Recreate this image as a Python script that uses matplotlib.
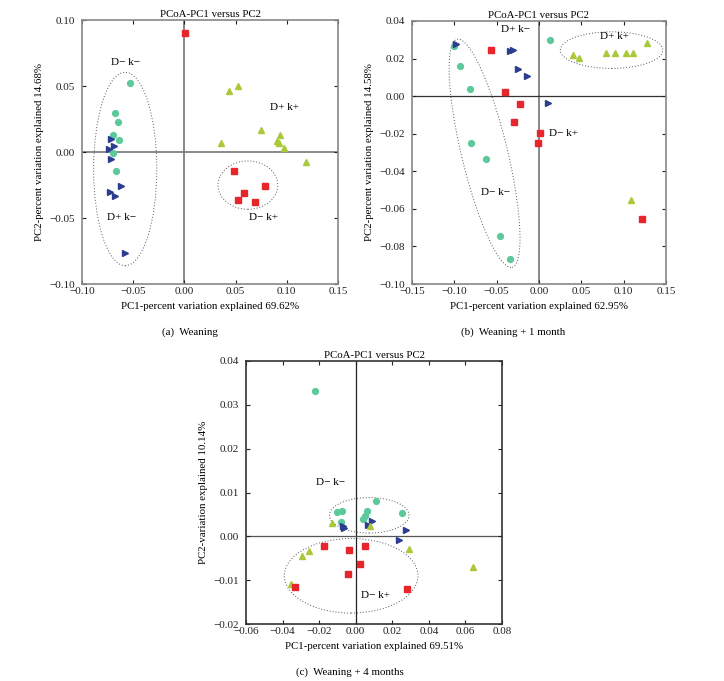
import numpy as np
import matplotlib
matplotlib.use("Agg")
import matplotlib.pyplot as plt
from matplotlib.patches import Ellipse, Polygon

plt.rcParams['font.family'] = ['Liberation Serif', 'DejaVu Serif']
plt.rcParams['font.size'] = 7.5

GREEN = '#5cc99b'
BLUE = '#2a3d8f'
YELLOW = '#a9c93b'
RED = '#e6262b'

# ---------------- Panel (a): Weaning ----------------
a_dkm_x = [-0.053, -0.0675, -0.065, -0.070, -0.064, -0.070, -0.067]
a_dkm_y = [0.052, 0.0295, 0.023, 0.013, 0.009, -0.001, -0.0146]
a_dpkm_x = [-0.0714, -0.074, -0.0685, -0.072, -0.0623, -0.0727, -0.068, -0.058]
a_dpkm_y = [0.010, 0.002, 0.0045, -0.0056, -0.0258, -0.030, -0.0336, -0.0765]
a_dpkp_x = [0.0435, 0.052, 0.0747, 0.0357, 0.093, 0.0903, 0.092, 0.097, 0.1185]
a_dpkp_y = [0.0465, 0.050, 0.017, 0.0066, 0.0129, 0.008, 0.0066, 0.0028, -0.0073]
a_dmkp_x = [0.001, 0.0484, 0.079, 0.0584, 0.0523, 0.069]
a_dmkp_y = [0.090, -0.0146, -0.0258, -0.0313, -0.036, -0.038]

# ---------------- Panel (b): Weaning + 1 month ----------------
b_dkm_x = [-0.100, -0.0937, -0.0815, 0.0126, -0.0807, -0.0626, -0.0457, -0.0343]
b_dkm_y = [0.0266, 0.0161, 0.0037, 0.0301, -0.025, -0.0337, -0.0743, -0.0867]
b_dpkm_x = [-0.0984, -0.0345, -0.031, -0.0252, -0.0146, 0.0106]
b_dpkm_y = [0.0275, 0.0238, 0.0245, 0.0144, 0.0105, -0.0034]
b_dpkp_x = [0.0406, 0.0469, 0.0795, 0.090, 0.1028, 0.1106, 0.127, 0.109]
b_dpkp_y = [0.0218, 0.0202, 0.0232, 0.023, 0.023, 0.0232, 0.0285, -0.0553]
b_dmkp_x = [-0.0563, -0.0406, -0.022, -0.0295, 0.0012, -0.0008, 0.1217]
b_dmkp_y = [0.0246, 0.0021, -0.0041, -0.0138, -0.0195, -0.0252, -0.0654]

# ---------------- Panel (c): Weaning + 4 months ----------------
c_dkm_x = [-0.0224, 0.0113, -0.010, -0.0076, 0.006, 0.0049, 0.0042, 0.0255, -0.008]
c_dkm_y = [0.0331, 0.0081, 0.0055, 0.0057, 0.0058, 0.0046, 0.0039, 0.0054, 0.0032]
c_dpkm_x = [-0.0068, -0.0062, 0.0067, 0.0089, 0.0276, 0.0238]
c_dpkm_y = [0.0024, 0.0018, 0.0025, 0.0035, 0.0014, -0.0008]
c_dpkp_x = [-0.0129, 0.008, 0.0289, -0.0255, -0.0293, -0.0355, 0.064]
c_dpkp_y = [0.003, 0.0024, -0.0029, -0.0033, -0.0044, -0.0109, -0.0071]
c_dmkp_x = [-0.0176, -0.0036, 0.0049, 0.0022, -0.0044, -0.0333, 0.028]
c_dmkp_y = [-0.0022, -0.0031, -0.0021, -0.0063, -0.0085, -0.0115, -0.0121]

titles = "PCoA-PC1 versus PC2"
xlabels = ["PC1-percent variation explained 69.62%",
           "PC1-percent variation explained 62.95%",
           "PC1-percent variation explained 69.51%"]
ylabels = ["PC2-percent variation explained 14.68%",
           "PC2-percent variation explained 14.58%",
           "PC2-variation explained 10.14%"]
captions = ["(a)  Weaning", "(b)  Weaning + 1 month", "(c)  Weaning + 4 months"]

fig = plt.figure(figsize=(7.24, 6.81), dpi=100)
W, H = 724, 681

def axes_px(l, t, r, b):
    return fig.add_axes([l / W, 1 - b / H, (r - l) / W, (b - t) / H])

axA = axes_px(82, 20, 338, 284)
axB = axes_px(412, 21, 666, 284)
axC = axes_px(246, 361, 502, 624)

MS = 4.2

def draw(ax, g, bl, y, r):
    ax.plot(g[0], g[1], 'o', color=GREEN, ms=MS, mec=GREEN, zorder=4)
    ax.plot(bl[0], bl[1], '>', color=BLUE, ms=MS + 0.5, mec=BLUE, zorder=4)
    ax.plot(y[0], y[1], '^', color=YELLOW, ms=MS + 0.3, mec=YELLOW, zorder=4)
    ax.plot(r[0], r[1], 's', color=RED, ms=MS, mec=RED, zorder=4)

def style(ax, xlim, ylim, xt, yt, fmt, spine_col, i):
    ax.set_xlim(*xlim)
    ax.set_ylim(*ylim)
    ax.set_xticks(xt)
    ax.set_yticks(yt)
    ax.set_xticklabels([fmt.format(v).replace('-', '\u2212') for v in xt])
    ax.set_yticklabels([fmt.format(v).replace('-', '\u2212') for v in yt])
    ax.tick_params(direction='in', top=True, right=True, length=3, width=0.8,
                   colors='#222222', labelsize=8)
    ax.tick_params(axis='x', pad=2.5)
    ax.tick_params(axis='y', pad=5)
    for s in ax.spines.values():
        s.set_color(spine_col)
        s.set_linewidth(1.2)
    ax.set_title(titles, fontsize=7.8, pad=2)
    ax.set_xlabel(xlabels[i], fontsize=7.8, labelpad=4)
    ax.set_ylabel(ylabels[i], fontsize=7.8, labelpad=4)

# Panel a
draw(axA, (a_dkm_x, a_dkm_y), (a_dpkm_x, a_dpkm_y), (a_dpkp_x, a_dpkp_y), (a_dmkp_x, a_dmkp_y))
axA.axvline(0, color='#888888', lw=1.4, zorder=1)
axA.axhline(0, color='#777777', lw=1.2, zorder=1)
axA.add_patch(Ellipse((-0.0578, -0.0129), 0.0617, 0.1465, fill=False, ls=(0, (1, 2)),
                      ec='#555555', lw=0.7))
axA.add_patch(Ellipse((0.062, -0.0251), 0.0584, 0.0366, fill=False, ls=(0, (1, 2)),
                      ec='#555555', lw=0.7))
for (tx, ty, s) in [(-0.0578, 0.068, "D\u2212 k\u2212"), (0.0974, 0.0336, "D+ k+"),
                    (0.0773, -0.0495, "D\u2212 k+"), (-0.061, -0.0495, "D+ k\u2212")]:
    axA.text(tx, ty, s, ha='center', va='center', fontsize=8)
style(axA, (-0.10, 0.15), (-0.10, 0.10), [-0.10, -0.05, 0.0, 0.05, 0.10, 0.15],
      [-0.10, -0.05, 0.0, 0.05, 0.10], "{:.2f}", '#888888', 0)

# Panel b
draw(axB, (b_dkm_x, b_dkm_y), (b_dpkm_x, b_dpkm_y), (b_dpkp_x, b_dpkp_y), (b_dmkp_x, b_dmkp_y))
axB.axvline(0, color='#888888', lw=1.4, zorder=1)
axB.axhline(0, color='#333333', lw=0.9, zorder=1)
ell_c = np.array([-0.0643, -0.0304])
ell_a = np.array([0.0325, -0.0607])
ell_b = np.array([0.0264, 0.00287])
t = np.linspace(0, 2 * np.pi, 200)
pts = ell_c[None, :] + np.cos(t)[:, None] * ell_a[None, :] + np.sin(t)[:, None] * ell_b[None, :]
axB.add_patch(Polygon(pts, closed=True, fill=False, ls=(0, (1, 2)), ec='#555555', lw=0.7))
axB.add_patch(Ellipse((0.0857, 0.0245), 0.121, 0.0195, fill=False, ls=(0, (1, 2)),
                      ec='#555555', lw=0.7))
for (tx, ty, s) in [(-0.028, 0.0354, "D+ k\u2212"), (0.0894, 0.0317, "D+ k+"),
                    (0.0295, -0.0197, "D\u2212 k+"), (-0.0516, -0.0512, "D\u2212 k\u2212")]:
    axB.text(tx, ty, s, ha='center', va='center', fontsize=8)
style(axB, (-0.15, 0.15), (-0.10, 0.04), [-0.15, -0.10, -0.05, 0.0, 0.05, 0.10, 0.15],
      [-0.10, -0.08, -0.06, -0.04, -0.02, 0.0, 0.02, 0.04], "{:.2f}", '#888888', 1)

# Panel c
draw(axC, (c_dkm_x, c_dkm_y), (c_dpkm_x, c_dpkm_y), (c_dpkp_x, c_dpkp_y), (c_dmkp_x, c_dmkp_y))
axC.axvline(0, color='#222222', lw=0.9, zorder=1)
axC.axhline(0, color='#555555', lw=0.9, zorder=1)
axC.add_patch(Ellipse((0.0074, 0.0048), 0.0435, 0.0081, fill=False, ls=(0, (1, 2)),
                      ec='#555555', lw=0.7))
axC.add_patch(Ellipse((-0.0025, -0.009), 0.0731, 0.017, fill=False, ls=(0, (1, 2)),
                      ec='#555555', lw=0.7))
for (tx, ty, s) in [(-0.0136, 0.0122, "D\u2212 k\u2212"), (0.0109, -0.0134, "D\u2212 k+")]:
    axC.text(tx, ty, s, ha='center', va='center', fontsize=8)
style(axC, (-0.06, 0.08), (-0.02, 0.04), [-0.06, -0.04, -0.02, 0.0, 0.02, 0.04, 0.06, 0.08],
      [-0.02, -0.01, 0.0, 0.01, 0.02, 0.03, 0.04], "{:.2f}", '#333333', 2)

fig.text(190 / W, 1 - 332 / H, captions[0], ha='center', va='center', fontsize=7.8)
fig.text(513 / W, 1 - 332 / H, captions[1], ha='center', va='center', fontsize=7.8)
fig.text(350 / W, 1 - 672 / H, captions[2], ha='center', va='center', fontsize=7.8)

fig.savefig("out.png", dpi=100)
